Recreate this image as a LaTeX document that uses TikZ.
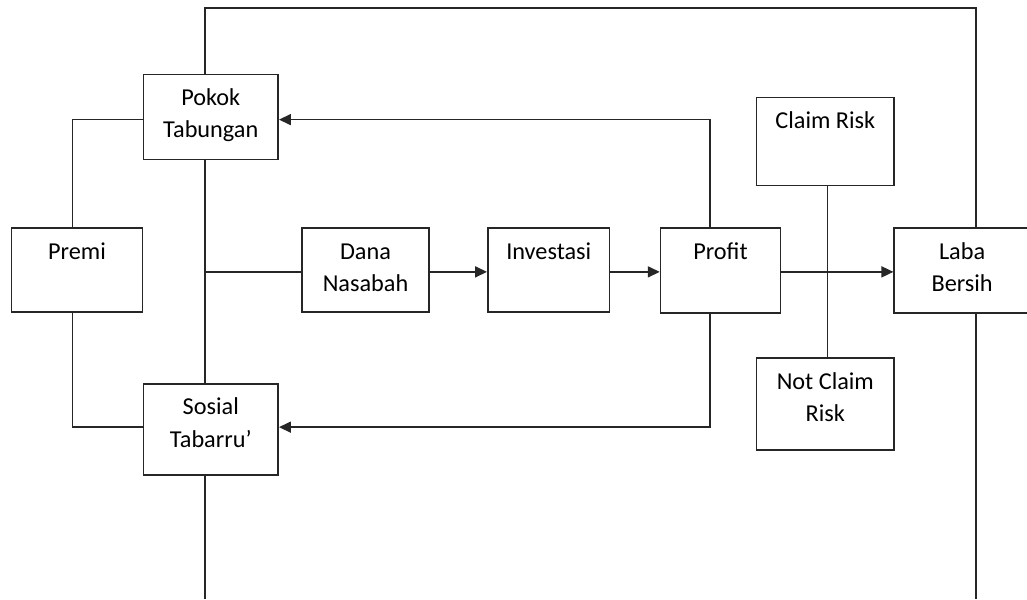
\documentclass[tikz,border=0pt]{standalone}
\usepackage{fontspec}
\setmainfont{Carlito}
\usetikzlibrary{arrows.meta}
\begin{document}
\begin{tikzpicture}[x=1pt,y=-1pt,
  line width=1.6pt,
  every path/.style={draw=black!85},
  box/.style={draw=black!85, fill=white, inner xsep=0pt, inner ysep=0pt, anchor=north west,
    align=center, text height=31pt, font=\fontsize{24.3}{32.5}\selectfont, text=black},
  two/.style={text height=63.5pt},
  arr/.style={-{Triangle[length=12pt,width=11pt]}}]
\useasboundingbox (0,0) rectangle (1027,599);
\fill[white] (0,0) rectangle (1027,599);
\coordinate (tl) at (204.5,7.5);
\coordinate (tr) at (977,7.5);
\coordinate (bl) at (204.5,599);
\coordinate (br) at (977,599);
\coordinate (mid) at (0,271.5);
\coordinate (upper) at (0,119);
\coordinate (lower) at (0,427);
% nodes
\node[box, two, minimum width=135pt, text depth=21.5pt] (Pokok) at (142,73) {Pokok\\Tabungan};
\node[box, minimum width=131pt, text depth=53pt] (Premi) at (10,227) {Premi};
\node[box, two, minimum width=135pt, text depth=27.5pt] (Sosial) at (142,383) {Sosial\\Tabarru’};
\node[box, two, minimum width=127pt, text depth=20.5pt] (Dana) at (301,227) {Dana\\Nasabah};
\node[box, minimum width=122pt, text depth=53pt] (Inv) at (487,227) {Investasi};
\node[box, minimum width=120pt, text depth=54pt] (Profit) at (660,227) {Profit};
\node[box, minimum width=138pt, text depth=57pt] (Claim) at (756,96) {Claim Risk};
\node[box, two, minimum width=138pt, text depth=28.5pt] (NotClaim) at (756,357) {Not Claim\\Risk};
\node[box, two, minimum width=136pt, text depth=21.5pt] (Laba) at (894,227) {Laba\\Bersih};
% frame
\draw (Pokok.north -| tl) -- (tl) -- (tr) -- (Laba.north -| tr);
\draw (Laba.south -| tr) -- (br);
\draw (Pokok.south -| tl) -- (Sosial.north -| tl);
\draw (Sosial.south -| bl) -- (bl);
% left connections
\draw (Pokok.west |- upper) -| (Premi.north -| 72,0);
\draw (Premi.south -| 72,0) |- (Sosial.west |- lower);
\draw (tl |- mid) -- (Dana.west |- mid);
% main flow
\draw[arr] (Dana.east |- mid) -- (Inv.west |- mid);
\draw[arr] (Inv.east |- mid) -- (Profit.west |- mid);
\draw[arr] (Profit.east |- mid) -- (Laba.west |- mid);
% profit back
\draw[arr] (Profit.north -| 710,0) |- (Pokok.east |- upper);
\draw[arr] (Profit.south -| 710,0) |- (Sosial.east |- lower);
% claim
\draw (Claim.south -| 828,0) -- (NotClaim.north -| 828,0);
\end{tikzpicture}
\end{document}
